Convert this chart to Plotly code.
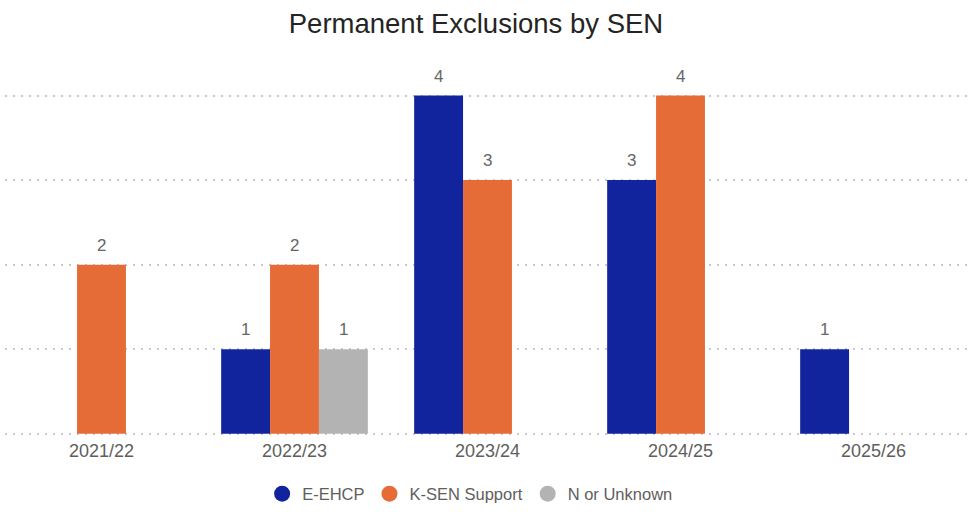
import plotly.graph_objects as go

categories = ["2021/22", "2022/23", "2023/24", "2024/25", "2025/26"]
series_names = ["E-EHCP", "K-SEN Support", "N or Unknown"]
e_ehcp = [None, 1, 4, 3, 1]
k_sen = [2, 2, 3, 4, None]
n_unknown = [None, 1, None, None, None]
colors = ["#12239E", "#E66C37", "#B3B3B3"]

W, H = 977, 516
ML, MR, MT, MB = 5, 7, 60, 74
BARGAP = 0.24
all_series = [e_ehcp, k_sen, n_unknown]

fig = go.Figure()
for name, vals, col in zip(series_names, all_series, colors):
    fig.add_trace(go.Bar(
        x=categories, y=vals, name=name,
        marker=dict(color=col, line=dict(width=0)),
        showlegend=False, hoverinfo="x+y+name",
    ))
for name, col in zip(series_names, colors):
    fig.add_trace(go.Scatter(
        x=[None], y=[None], mode="markers", name=name,
        marker=dict(symbol="circle", size=16, color=col),
    ))

# data labels above each bar, centred on its slot within the group
slot_px = (W - ML - MR) / len(categories) * (1 - BARGAP) / len(all_series)
for i, vals in enumerate(all_series):
    for cat, v in zip(categories, vals):
        if v is None:
            continue
        fig.add_annotation(x=cat, y=v, text=str(v), showarrow=False,
                           xanchor="center", yanchor="bottom",
                           xshift=(i - (len(all_series) - 1) / 2) * slot_px, yshift=8,
                           font=dict(size=17, color="#666666"))

fig.update_layout(
    width=W, height=H,
    paper_bgcolor="white", plot_bgcolor="white",
    font=dict(family="Liberation Sans, Arial, sans-serif", color="#605E5C"),
    title=dict(text="Permanent Exclusions by SEN", x=476/977, xref="container", xanchor="center",
               y=1 - 23/516, yref="container", yanchor="middle",
               font=dict(size=27.5, color="#252423")),
    margin=dict(l=ML, r=MR, t=MT, b=MB),
    barmode="group", bargap=BARGAP, bargroupgap=0,
    legend=dict(orientation="h", x=0.482, xanchor="center", y=-0.148, yanchor="middle",
                font=dict(size=16.5, color="#605E5C"), itemwidth=30, traceorder="normal"),
)
fig.update_xaxes(type="category", showgrid=False, showline=False, ticks="",
                 tickfont=dict(size=18, color="#605E5C"))
fig.update_yaxes(range=[-0.05, 4.42], dtick=1, showgrid=True, gridcolor="#C8C8C8",
                 griddash="2px,6px", gridwidth=1.5, zeroline=False,
                 showticklabels=False, showline=False)

fig.write_html("out.html", config={"displayModeBar": False},
               post_script="document.body.style.margin='0';")
